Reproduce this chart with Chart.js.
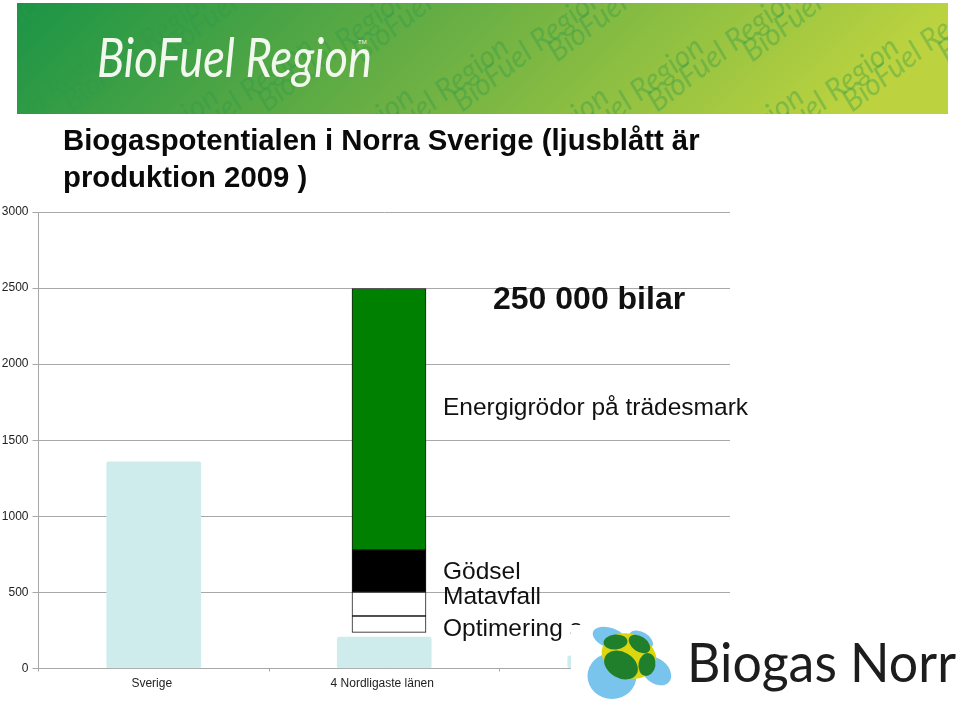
<!DOCTYPE html>
<html>
<head>
<meta charset="utf-8">
<script src="https://cdn.jsdelivr.net/npm/chart.js@4"></script>
<style>
    html, body { margin: 0; padding: 0; background: #fff; overflow: hidden; }
    #page { position: relative; width: 960px; height: 705px; overflow: hidden; font-family: "Liberation Sans", Arial, sans-serif; }
    #charts { position: absolute; left: 0; top: 0; }
    .note { position: absolute; white-space: nowrap; color: #111; font-size: 24.5px; line-height: 25px; }
    #banner { position: absolute; left: 17px; top: 3px; }
    #title { position: absolute; left: 63px; top: 121px; width: 680px; font-size: 29.3px; line-height: 37px; font-weight: bold; color: #0a0a0a; }
    #logo { position: absolute; left: 571px; top: 625px; }
</style>
</head>
<body>
<div id="page">
    <canvas id="charts" width="960" height="705"></canvas>

    <svg id="banner" width="931" height="111" xmlns="http://www.w3.org/2000/svg">
        <defs>
            <linearGradient id="bannerFill" x1="0" y1="0" x2="1" y2="0.12">
                <stop offset="0" stop-color="#1b9446"/>
                <stop offset="0.5" stop-color="#6bb044"/>
                <stop offset="1" stop-color="#bcd33f"/>
            </linearGradient>
        </defs>
        <rect width="931" height="111" fill="url(#bannerFill)"/>
        <g id="watermark" font-family="Lato" font-style="italic" font-size="30" fill="#2f9a48" fill-opacity="0.4"></g>
        <text x="80" y="74" font-family="Lato" font-style="italic" font-size="54" fill="#f2f8ee" textLength="275" lengthAdjust="spacingAndGlyphs">BioFuel Region</text>
        <text x="341" y="41" font-family="Liberation Sans" font-size="6" fill="#f2f8ee">TM</text>
    </svg>

    <div id="title">Biogaspotentialen i Norra Sverige (ljusblått är produktion 2009 )</div>

    <div class="note" style="left:493px; top:282px; font-size:32px; line-height:32px; font-weight:bold;">250 000 bilar</div>
    <div class="note" style="left:443px; top:394px;">Energigrödor på trädesmark</div>
    <div class="note" style="left:443px; top:558px;">Gödsel</div>
    <div class="note" style="left:443px; top:583px;">Matavfall</div>
    <div class="note" style="left:443px; top:615px;">Optimering s</div>

    <svg id="logo" width="389" height="80" xmlns="http://www.w3.org/2000/svg">
        <rect width="389" height="80" fill="#fff"/>
        <ellipse cx="39" cy="13" rx="18" ry="10" transform="rotate(20 39 13)" fill="#79c4ec"/>
        <ellipse cx="41" cy="51" rx="24.5" ry="23" fill="#79c4ec"/>
        <ellipse cx="70" cy="15" rx="13" ry="8" transform="rotate(30 70 15)" fill="#79c4ec"/>
        <ellipse cx="85" cy="46" rx="17" ry="12" transform="rotate(40 85 46)" fill="#79c4ec"/>
        <ellipse cx="58" cy="31" rx="28" ry="22" transform="rotate(20 58 31)" fill="#dcd60f"/>
        <ellipse cx="44.5" cy="17" rx="12" ry="7.5" transform="rotate(-5 44.5 17)" fill="#1f7f2b"/>
        <ellipse cx="68.5" cy="19" rx="12" ry="7.5" transform="rotate(35 68.5 19)" fill="#1f7f2b"/>
        <ellipse cx="50" cy="40" rx="18" ry="13" transform="rotate(30 50 40)" fill="#1f7f2b"/>
        <ellipse cx="76" cy="39.5" rx="8.5" ry="11.5" transform="rotate(10 76 39.5)" fill="#1f7f2b"/>
        <text x="116" y="57" font-family="Lato" font-size="55" fill="#1d1d1d" textLength="269" lengthAdjust="spacingAndGlyphs">Biogas Norr</text>
    </svg>
</div>

<script>
var yTicks = [0, 500, 1000, 1500, 2000, 2500, 3000];
var categories = ["Sverige", "4 Nordligaste länen", ""];
var produktion = [1358, 207, 83];

// the tall bar sits a little to the right of its category, so it gets its own x axis
var tallBarX = 1.024;
var optimering = [237, 345];
var matavfall = [345, 503];
var godsel = [503, 780];
var energigrodor = [780, 2497];

var gridColor = "#a8a8a8";

function tallBar(label, range, color) {
    return {
        label: label,
        xAxisID: "x2",
        grouped: false,
        barThickness: 74,
        borderSkipped: false,
        backgroundColor: color,
        borderColor: "#1a1a1a",
        borderWidth: 1,
        data: [{ x: tallBarX, y: range }]
    };
}

new Chart(document.getElementById("charts").getContext("2d"), {
    type: "bar",
    data: {
        labels: categories,
        datasets: [
            {
                label: "Produktion 2009",
                xAxisID: "x",
                grouped: false,
                barThickness: 94,
                borderRadius: 2,
                borderSkipped: false,
                backgroundColor: "#cfecec",
                data: produktion
            },
            tallBar("Optimering", optimering, "#ffffff"),
            tallBar("Matavfall", matavfall, "#ffffff"),
            tallBar("Gödsel", godsel, "#000000"),
            tallBar("Energigrödor på trädesmark", energigrodor, "#008000")
        ]
    },
    options: {
        responsive: false,
        animation: false,
        layout: { padding: { top: 212, right: 230, left: 0, bottom: 0 } },
        plugins: { legend: { display: false }, tooltip: { enabled: false } },
        scales: {
            x: {
                type: "category",
                position: "bottom",
                afterFit: function (scale) { scale.height = 36.5; },
                grid: { color: gridColor, drawOnChartArea: false, offset: true, tickLength: 3 },
                border: { color: gridColor, width: 1 },
                ticks: {
                    color: "#222",
                    font: { family: "Liberation Sans", size: 12 },
                    padding: 5,
                    maxRotation: 0,
                    labelOffset: -2
                }
            },
            x2: { type: "linear", display: false, min: -0.5, max: 2.5 },
            y: {
                min: 0,
                max: 3000,
                afterBuildTicks: function (scale) {
                    scale.ticks = yTicks.map(function (v) { return { value: v }; });
                },
                afterFit: function (scale) { scale.width = 38.5; },
                grid: { color: gridColor, lineWidth: 1, tickLength: 6 },
                border: { color: gridColor, width: 1 },
                ticks: {
                    color: "#222",
                    font: { family: "Liberation Sans", size: 12 },
                    padding: 4,
                    callback: function (value) { return String(value); }
                }
            }
        }
    }
});

// banner watermark, rows of the same slanted name
var watermark = document.getElementById("watermark");
for (var row = 0; row < 6; row++) {
    for (var col = 0; col < 8; col++) {
        var t = document.createElementNS("http://www.w3.org/2000/svg", "text");
        var px = col * 195 + row * 100 - 240;
        var py = row * 50 + 60;
        t.setAttribute("transform", "translate(" + px + "," + py + ") rotate(-38)");
        t.textContent = "BioFuel Region";
        watermark.appendChild(t);
    }
}
</script>
</body>
</html>
